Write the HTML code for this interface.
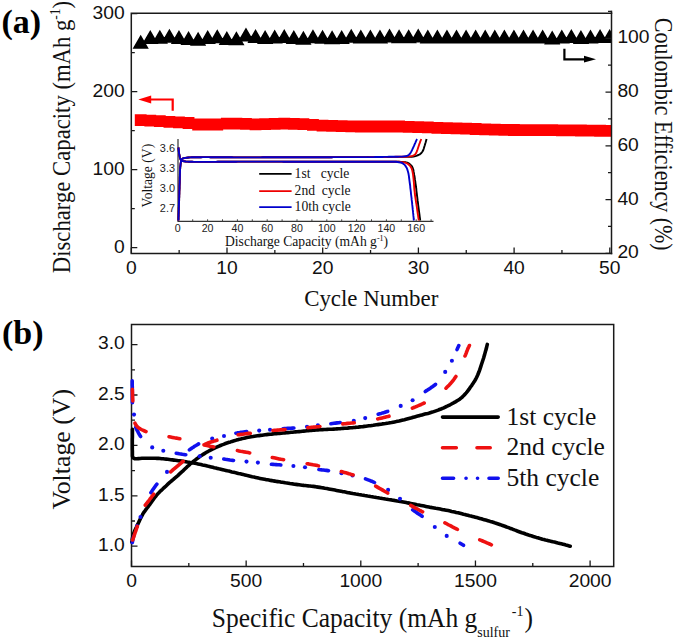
<!DOCTYPE html>
<html><head><meta charset="utf-8"><title>figure</title>
<style>html,body{margin:0;padding:0;background:#fff;} svg{display:block;}</style>
</head><body>
<svg width="675" height="638" viewBox="0 0 675 638">
<defs>
<clipPath id="ca"><rect x="131.3" y="13.3" width="480.2" height="240.2"/></clipPath>
</defs>
<rect width="675" height="638" fill="#fff"/>
<g clip-path="url(#ca)"><path d="M140.7,34.7 L148.8,48.7 L132.6,48.7 Z M150.27,29.9 L158.37,43.9 L142.17,43.9 Z M159.84,29.7 L167.94,43.7 L151.74,43.7 Z M169.41,28.8 L177.51,42.8 L161.31,42.8 Z M178.98,29.9 L187.08,43.9 L170.88,43.9 Z M188.55,30.9 L196.65,44.9 L180.45,44.9 Z M198.12,31.7 L206.22,45.7 L190.02,45.7 Z M207.69,30.1 L215.79,44.1 L199.59,44.1 Z M217.26,29.3 L225.36,43.3 L209.16,43.3 Z M226.83,30.9 L234.93,44.9 L218.73,44.9 Z M236.4,31.2 L244.5,45.2 L228.3,45.2 Z M245.97,27.6 L254.07,41.6 L237.87,41.6 Z M255.54,29 L263.64,43 L247.44,43 Z M265.11,30.1 L273.21,44.1 L257.01,44.1 Z M274.68,29.6 L282.78,43.6 L266.58,43.6 Z M284.25,29 L292.35,43 L276.15,43 Z M293.82,30.1 L301.92,44.1 L285.72,44.1 Z M303.39,30.7 L311.49,44.7 L295.29,44.7 Z M312.96,29.3 L321.06,43.3 L304.86,43.3 Z M322.53,29.7 L330.63,43.7 L314.43,43.7 Z M332.1,30.2 L340.2,44.2 L324,44.2 Z M341.67,30 L349.77,44 L333.57,44 Z M351.24,28.8 L359.34,42.8 L343.14,42.8 Z M360.81,29.4 L368.91,43.4 L352.71,43.4 Z M370.38,29.4 L378.48,43.4 L362.28,43.4 Z M379.95,29.4 L388.05,43.4 L371.85,43.4 Z M389.52,28.6 L397.62,42.6 L381.42,42.6 Z M399.09,29.2 L407.19,43.2 L390.99,43.2 Z M408.66,29.2 L416.76,43.2 L400.56,43.2 Z M418.23,28.6 L426.33,42.6 L410.13,42.6 Z M427.8,29.4 L435.9,43.4 L419.7,43.4 Z M437.37,29.4 L445.47,43.4 L429.27,43.4 Z M446.94,29.4 L455.04,43.4 L438.84,43.4 Z M456.51,29.4 L464.61,43.4 L448.41,43.4 Z M466.08,29.4 L474.18,43.4 L457.98,43.4 Z M475.65,29.4 L483.75,43.4 L467.55,43.4 Z M485.22,29.4 L493.32,43.4 L477.12,43.4 Z M494.79,29.4 L502.89,43.4 L486.69,43.4 Z M504.36,29.4 L512.46,43.4 L496.26,43.4 Z M513.93,29.4 L522.03,43.4 L505.83,43.4 Z M523.5,29.4 L531.6,43.4 L515.4,43.4 Z M533.07,29.4 L541.17,43.4 L524.97,43.4 Z M542.64,29.4 L550.74,43.4 L534.54,43.4 Z M552.21,30.6 L560.31,44.6 L544.11,44.6 Z M561.78,29.6 L569.88,43.6 L553.68,43.6 Z M571.35,29.1 L579.45,43.1 L563.25,43.1 Z M580.92,30.1 L589.02,44.1 L572.82,44.1 Z M590.49,29.6 L598.59,43.6 L582.39,43.6 Z M600.06,29.1 L608.16,43.1 L591.96,43.1 Z M609.63,29.1 L617.73,43.1 L601.53,43.1 Z" fill="#000"/></g>
<g clip-path="url(#ca)"><path d="M134.8,114.3 h11.8 v11.8 h-11.8 Z M144.37,114.8 h11.8 v11.8 h-11.8 Z M153.94,115.3 h11.8 v11.8 h-11.8 Z M163.51,115.9 h11.8 v11.8 h-11.8 Z M173.08,116.5 h11.8 v11.8 h-11.8 Z M182.65,117.1 h11.8 v11.8 h-11.8 Z M192.22,118.6 h11.8 v11.8 h-11.8 Z M201.79,118.6 h11.8 v11.8 h-11.8 Z M211.36,118.6 h11.8 v11.8 h-11.8 Z M220.93,117.7 h11.8 v11.8 h-11.8 Z M230.5,117.8 h11.8 v11.8 h-11.8 Z M240.07,117.9 h11.8 v11.8 h-11.8 Z M249.64,118.4 h11.8 v11.8 h-11.8 Z M259.21,118.17 h11.8 v11.8 h-11.8 Z M268.78,117.93 h11.8 v11.8 h-11.8 Z M278.35,117.7 h11.8 v11.8 h-11.8 Z M287.92,118 h11.8 v11.8 h-11.8 Z M297.49,118.3 h11.8 v11.8 h-11.8 Z M307.06,119 h11.8 v11.8 h-11.8 Z M316.63,119.7 h11.8 v11.8 h-11.8 Z M326.2,119.92 h11.8 v11.8 h-11.8 Z M335.77,120.15 h11.8 v11.8 h-11.8 Z M345.34,120.38 h11.8 v11.8 h-11.8 Z M354.91,120.6 h11.8 v11.8 h-11.8 Z M364.48,120.6 h11.8 v11.8 h-11.8 Z M374.05,120.6 h11.8 v11.8 h-11.8 Z M383.62,120.6 h11.8 v11.8 h-11.8 Z M393.19,120.6 h11.8 v11.8 h-11.8 Z M402.76,120.92 h11.8 v11.8 h-11.8 Z M412.33,121.25 h11.8 v11.8 h-11.8 Z M421.9,121.57 h11.8 v11.8 h-11.8 Z M431.47,121.9 h11.8 v11.8 h-11.8 Z M441.04,122.2 h11.8 v11.8 h-11.8 Z M450.61,122.5 h11.8 v11.8 h-11.8 Z M460.18,122.8 h11.8 v11.8 h-11.8 Z M469.75,123.1 h11.8 v11.8 h-11.8 Z M479.32,123.4 h11.8 v11.8 h-11.8 Z M488.89,123.7 h11.8 v11.8 h-11.8 Z M498.46,123.9 h11.8 v11.8 h-11.8 Z M508.03,124.1 h11.8 v11.8 h-11.8 Z M517.6,124.3 h11.8 v11.8 h-11.8 Z M527.17,124.3 h11.8 v11.8 h-11.8 Z M536.74,124.3 h11.8 v11.8 h-11.8 Z M546.31,124.3 h11.8 v11.8 h-11.8 Z M555.88,124.4 h11.8 v11.8 h-11.8 Z M565.45,124.5 h11.8 v11.8 h-11.8 Z M575.02,124.6 h11.8 v11.8 h-11.8 Z M584.59,124.73 h11.8 v11.8 h-11.8 Z M594.16,124.87 h11.8 v11.8 h-11.8 Z M603.73,125 h11.8 v11.8 h-11.8 Z" fill="#ff0000"/></g>
<g stroke="#1a1a1a" stroke-width="1.5" fill="none" stroke-linecap="square">
<path d="M131.3,13.3 H611.5 M131.3,13.3 V253.5 H611.5"/>
<path d="M611.5,11.43 V253.5"/>
</g>
<path d="M131.3,247.7 h6 M131.3,169.7 h6 M131.3,91.7 h6 M131.3,13.7 h6 M131.3,208.7 h3.5 M131.3,130.7 h3.5 M131.3,52.7 h3.5 M611.5,253.3 h-6 M611.5,199.55 h-6 M611.5,145.8 h-6 M611.5,92.05 h-6 M611.5,38.3 h-6 M611.5,226.43 h-3.5 M611.5,172.68 h-3.5 M611.5,118.93 h-3.5 M611.5,65.18 h-3.5 M611.5,11.43 h-3.5 M131.3,253.5 v-6 M227,253.5 v-6 M322.7,253.5 v-6 M418.4,253.5 v-6 M514.1,253.5 v-6 M609.8,253.5 v-6 M179.15,253.5 v-3.5 M274.85,253.5 v-3.5 M370.55,253.5 v-3.5 M466.25,253.5 v-3.5 M561.95,253.5 v-3.5" stroke="#1a1a1a" stroke-width="1.3" fill="none"/>
<text transform='translate(124.6,252.7) scale(1.07,1.0)' font-family='"Liberation Sans", sans-serif' font-size='18' fill='#111' text-anchor='end'>0</text>
<text transform='translate(124.6,174.7) scale(1.07,1.0)' font-family='"Liberation Sans", sans-serif' font-size='18' fill='#111' text-anchor='end'>100</text>
<text transform='translate(124.6,96.7) scale(1.07,1.0)' font-family='"Liberation Sans", sans-serif' font-size='18' fill='#111' text-anchor='end'>200</text>
<text transform='translate(124.6,18.7) scale(1.07,1.0)' font-family='"Liberation Sans", sans-serif' font-size='18' fill='#111' text-anchor='end'>300</text>
<text transform='translate(617.4,258.3) scale(1.07,1.0)' font-family='"Liberation Sans", sans-serif' font-size='18' fill='#111'>20</text>
<text transform='translate(617.4,204.55) scale(1.07,1.0)' font-family='"Liberation Sans", sans-serif' font-size='18' fill='#111'>40</text>
<text transform='translate(617.4,150.8) scale(1.07,1.0)' font-family='"Liberation Sans", sans-serif' font-size='18' fill='#111'>60</text>
<text transform='translate(617.4,97.05) scale(1.07,1.0)' font-family='"Liberation Sans", sans-serif' font-size='18' fill='#111'>80</text>
<text transform='translate(617.4,43.3) scale(1.07,1.0)' font-family='"Liberation Sans", sans-serif' font-size='18' fill='#111'>100</text>
<text transform='translate(131.3,273.8) scale(1.07,1.0)' font-family='"Liberation Sans", sans-serif' font-size='18' fill='#111' text-anchor='middle'>0</text>
<text transform='translate(227,273.8) scale(1.07,1.0)' font-family='"Liberation Sans", sans-serif' font-size='18' fill='#111' text-anchor='middle'>10</text>
<text transform='translate(322.7,273.8) scale(1.07,1.0)' font-family='"Liberation Sans", sans-serif' font-size='18' fill='#111' text-anchor='middle'>20</text>
<text transform='translate(418.4,273.8) scale(1.07,1.0)' font-family='"Liberation Sans", sans-serif' font-size='18' fill='#111' text-anchor='middle'>30</text>
<text transform='translate(514.1,273.8) scale(1.07,1.0)' font-family='"Liberation Sans", sans-serif' font-size='18' fill='#111' text-anchor='middle'>40</text>
<text transform='translate(609.8,273.8) scale(1.07,1.0)' font-family='"Liberation Sans", sans-serif' font-size='18' fill='#111' text-anchor='middle'>50</text>
<text transform='translate(371.2,306)' font-family='"Liberation Serif", serif' font-size='22.9' fill='#111' text-anchor='middle'>Cycle Number</text>
<text transform='translate(69.9,137) rotate(-90) scale(1.0,1.07)' font-family='"Liberation Serif", serif' font-size='22.7' fill='#111' text-anchor='middle'>Discharge Capacity (mAh g<tspan dy="-9.5" font-size="13.5">-1</tspan><tspan dy="9.5">)</tspan></text>
<text transform='translate(655.4,134.2) rotate(90) scale(1.0,1.15)' font-family='"Liberation Serif", serif' font-size='22' fill='#111' text-anchor='middle'>Coulombic Efficiency (%)</text>
<text transform='translate(1.5,32.6)' font-family='"Liberation Serif", serif' font-size='34' fill='#000' font-weight='bold'>(a)</text>
<g fill="none" stroke="#ff0000" stroke-width="2.2">
<path d="M172.7,110.8 V99.5 H150"/>
</g>
<path d="M138.3,99.5 L151.2,95.6 L151.2,103.4 Z" fill="#ff0000"/>
<g fill="none" stroke="#000" stroke-width="2.2">
<path d="M564.4,48.8 V59.4 H586"/>
</g>
<path d="M596,59.2 L584,55.8 L584,62.6 Z" fill="#000"/>
<path d="M178.0,139.0 V221.3 H433.5" stroke="#333" stroke-width="1.2" fill="none"/>
<path d="M192.7,221.3 v-2 M207.6,221.3 v-2 M222.5,221.3 v-2 M237.4,221.3 v-2 M252.3,221.3 v-2 M267.2,221.3 v-2 M282.1,221.3 v-2 M297,221.3 v-2 M311.9,221.3 v-2 M326.8,221.3 v-2 M341.7,221.3 v-2 M356.6,221.3 v-2 M371.5,221.3 v-2 M386.4,221.3 v-2 M401.3,221.3 v-2 M416.2,221.3 v-2 M431.1,221.3 v-2" stroke="#444" stroke-width="1" fill="none"/>
<text transform='translate(175,152.28) scale(1.03,1.0)' font-family='"Liberation Sans", sans-serif' font-size='10.6' fill='#222' text-anchor='end'>3.6</text>
<text transform='translate(175,172.14) scale(1.03,1.0)' font-family='"Liberation Sans", sans-serif' font-size='10.6' fill='#222' text-anchor='end'>3.3</text>
<text transform='translate(175,192) scale(1.03,1.0)' font-family='"Liberation Sans", sans-serif' font-size='10.6' fill='#222' text-anchor='end'>3.0</text>
<text transform='translate(175,211.86) scale(1.03,1.0)' font-family='"Liberation Sans", sans-serif' font-size='10.6' fill='#222' text-anchor='end'>2.7</text>
<text transform='translate(177.8,232)' font-family='"Liberation Sans", sans-serif' font-size='10.6' fill='#222' text-anchor='middle'>0</text>
<text transform='translate(207.6,232)' font-family='"Liberation Sans", sans-serif' font-size='10.6' fill='#222' text-anchor='middle'>20</text>
<text transform='translate(237.4,232)' font-family='"Liberation Sans", sans-serif' font-size='10.6' fill='#222' text-anchor='middle'>40</text>
<text transform='translate(267.2,232)' font-family='"Liberation Sans", sans-serif' font-size='10.6' fill='#222' text-anchor='middle'>60</text>
<text transform='translate(297,232)' font-family='"Liberation Sans", sans-serif' font-size='10.6' fill='#222' text-anchor='middle'>80</text>
<text transform='translate(326.8,232)' font-family='"Liberation Sans", sans-serif' font-size='10.6' fill='#222' text-anchor='middle'>100</text>
<text transform='translate(356.6,232)' font-family='"Liberation Sans", sans-serif' font-size='10.6' fill='#222' text-anchor='middle'>120</text>
<text transform='translate(386.4,232)' font-family='"Liberation Sans", sans-serif' font-size='10.6' fill='#222' text-anchor='middle'>140</text>
<text transform='translate(416.2,232)' font-family='"Liberation Sans", sans-serif' font-size='10.6' fill='#222' text-anchor='middle'>160</text>
<text transform='translate(152.4,175.6) rotate(-90)' font-family='"Liberation Serif", serif' font-size='13.6' fill='#111' text-anchor='middle'>Voltage (V)</text>
<text transform='translate(225,246.1)' font-family='"Liberation Serif", serif' font-size='13.6' fill='#111'>Discharge Capacity (mAh g<tspan dy="-5" font-size="8">-1</tspan><tspan dy="5">)</tspan></text>
<text transform='translate(294.6,178.4)' font-family='"Liberation Serif", serif' font-size='13.6' fill='#111' xml:space='preserve'>1st   cycle</text>
<text transform='translate(294.6,195.3)' font-family='"Liberation Serif", serif' font-size='13.6' fill='#111' xml:space='preserve'>2nd  cycle</text>
<text transform='translate(294.6,211.3)' font-family='"Liberation Serif", serif' font-size='13.6' fill='#111'>10th cycle</text>
<path d="M259.2,173.9 H291.6" stroke="#000" stroke-width="1.6"/>
<path d="M259.2,191.1 H291.6" stroke="#e00" stroke-width="1.6"/>
<path d="M259.2,207.1 H291.6" stroke="#00c" stroke-width="1.6"/>
<path d="M178.4,220.5 L178.5,219.0 L178.5,217.5 L178.6,215.9 L178.6,214.4 L178.7,212.8 L178.7,211.3 L178.8,209.7 L178.8,208.1 L178.9,206.6 L178.9,205.0 L179.0,203.5 L179.0,201.9 L179.1,200.4 L179.1,198.8 L179.2,197.3 L179.2,195.8 L179.3,193.8 L179.3,191.9 L179.4,190.0 L179.5,188.1 L179.5,186.3 L179.6,184.4 L179.7,182.7 L179.7,181.0 L179.8,179.3 L179.8,177.6 L179.9,175.9 L179.9,174.3 L180.0,172.7 L180.0,171.2 L180.1,169.2 L180.2,167.4 L180.4,165.8 L180.6,164.0 L180.9,162.1 L181.2,160.5 L182.0,159.0 L183.5,158.2 L185.2,157.9 L186.9,157.7 L188.4,157.5 L190.2,157.4 L191.9,157.3 L193.8,157.3 L195.4,157.2 L197.1,157.2 L198.9,157.2 L200.8,157.2 L202.7,157.1 L204.2,157.1 L205.8,157.1 L207.4,157.1 L209.0,157.1 L210.6,157.2 L212.3,157.2 L214.0,157.2 L215.7,157.2 L217.5,157.2 L219.2,157.2 L221.0,157.2 L222.8,157.3 L224.6,157.3 L226.4,157.3 L228.2,157.3 L230.0,157.3 L231.8,157.3 L233.6,157.4 L235.4,157.4 L237.2,157.4 L239.0,157.4 L240.8,157.4 L242.6,157.4 L244.3,157.4 L246.0,157.4 L247.8,157.4 L249.4,157.4 L251.3,157.4 L253.2,157.4 L255.0,157.4 L256.9,157.4 L258.9,157.4 L260.8,157.4 L262.8,157.3 L264.4,157.3 L265.9,157.3 L267.4,157.3 L269.0,157.3 L270.6,157.3 L272.1,157.3 L273.7,157.3 L275.3,157.3 L277.0,157.3 L278.6,157.3 L280.2,157.3 L281.8,157.3 L283.5,157.3 L285.1,157.3 L286.8,157.3 L288.4,157.3 L290.1,157.3 L291.8,157.3 L293.4,157.3 L295.1,157.2 L296.7,157.2 L298.4,157.2 L300.1,157.2 L301.7,157.2 L303.4,157.2 L305.0,157.2 L306.7,157.2 L308.3,157.2 L309.9,157.2 L311.5,157.2 L313.1,157.2 L314.7,157.2 L316.3,157.2 L317.9,157.2 L319.5,157.2 L321.0,157.2 L322.6,157.2 L324.1,157.2 L325.6,157.2 L327.6,157.2 L329.6,157.2 L331.5,157.2 L333.4,157.1 L335.2,157.1 L337.1,157.1 L338.8,157.1 L340.6,157.1 L342.3,157.1 L343.9,157.1 L345.5,157.1 L347.1,157.1 L348.9,157.1 L350.6,157.1 L352.5,157.1 L354.3,157.1 L356.1,157.1 L357.8,157.1 L359.4,157.1 L361.0,157.1 L362.5,157.1 L364.0,157.1 L366.0,157.1 L367.9,157.0 L369.7,157.0 L371.5,157.0 L373.3,157.0 L375.1,157.0 L376.9,157.0 L378.7,157.0 L380.6,157.0 L382.2,157.0 L383.9,157.0 L385.5,157.0 L387.1,157.0 L388.7,157.0 L390.3,157.0 L391.8,157.0 L393.8,156.9 L395.7,156.9 L397.5,156.9 L399.2,156.9 L401.2,156.9 L402.8,156.9 L404.4,156.9 L406.2,156.8 L408.0,156.8 L409.6,156.8 L411.6,156.7 L413.6,156.5 L415.5,156.1 L416.9,155.6 L418.4,155.0 L419.9,154.3 L421.4,153.0 L422.5,151.5 L423.3,150.0 L423.8,148.5 L424.3,146.8 L424.8,145.3 L425.2,143.8 L425.7,142.3 L426.1,140.6 L426.6,139.0 M178.4,147.5 L178.6,149.0 L178.8,150.6 L178.9,152.1 L179.1,153.6 L179.5,155.5 L179.8,157.2 L180.2,158.7 L181.0,160.3 L182.6,161.1 L184.2,161.3 L185.7,161.5 L187.3,161.6 L188.9,161.7 L190.6,161.8 L192.1,161.8 L193.7,161.9 L195.4,161.9 L197.2,161.9 L199.1,161.9 L201.1,161.9 L202.6,161.9 L204.2,161.9 L205.8,161.9 L207.4,161.9 L209.1,161.9 L210.8,161.9 L212.5,161.9 L214.2,161.9 L216.0,161.9 L217.8,161.8 L219.6,161.8 L221.4,161.8 L223.2,161.8 L225.0,161.8 L226.9,161.7 L228.7,161.7 L230.5,161.7 L232.4,161.7 L234.2,161.7 L236.0,161.7 L237.8,161.6 L239.6,161.6 L241.4,161.6 L243.2,161.6 L244.9,161.6 L246.6,161.6 L248.3,161.6 L250.0,161.6 L251.8,161.6 L253.7,161.6 L255.6,161.6 L257.5,161.6 L259.4,161.6 L261.4,161.6 L262.9,161.6 L264.4,161.6 L266.0,161.6 L267.5,161.6 L269.1,161.6 L270.7,161.6 L272.2,161.6 L273.8,161.6 L275.5,161.6 L277.1,161.6 L278.7,161.6 L280.3,161.6 L282.0,161.6 L283.6,161.7 L285.2,161.7 L286.9,161.7 L288.6,161.7 L290.2,161.7 L291.9,161.7 L293.5,161.7 L295.2,161.7 L296.8,161.7 L298.5,161.7 L300.2,161.7 L301.8,161.7 L303.5,161.7 L305.1,161.7 L306.7,161.7 L308.4,161.7 L310.0,161.7 L311.6,161.7 L313.2,161.7 L314.8,161.7 L316.4,161.7 L318.0,161.7 L319.5,161.7 L321.1,161.7 L322.6,161.7 L324.1,161.7 L325.7,161.7 L327.6,161.7 L329.6,161.7 L331.5,161.7 L333.4,161.7 L335.3,161.7 L337.1,161.7 L338.9,161.7 L340.6,161.7 L342.3,161.7 L343.9,161.7 L345.5,161.7 L347.1,161.7 L348.9,161.7 L350.6,161.7 L352.5,161.7 L354.3,161.7 L356.1,161.7 L357.8,161.7 L359.5,161.7 L361.1,161.7 L362.6,161.7 L364.2,161.7 L366.1,161.8 L368.1,161.8 L369.9,161.8 L371.7,161.8 L373.5,161.8 L375.3,161.8 L377.0,161.8 L378.7,161.8 L380.6,161.8 L382.3,161.8 L384.0,161.8 L385.7,161.8 L387.4,161.8 L389.0,161.8 L390.5,161.8 L392.5,161.8 L394.3,161.8 L395.9,161.8 L397.7,161.8 L399.2,161.8 L401.2,161.9 L402.7,162.0 L404.3,162.1 L405.9,162.3 L407.3,162.7 L408.7,163.4 L410.0,164.3 L411.1,165.4 L412.1,166.7 L412.8,168.2 L413.4,170.0 L413.6,171.5 L413.9,173.1 L414.2,174.9 L414.6,176.8 L414.8,178.3 L415.0,179.9 L415.3,181.6 L415.5,183.3 L415.8,185.1 L416.0,187.0 L416.3,189.0 L416.4,190.6 L416.6,192.1 L416.8,193.7 L417.0,195.3 L417.2,196.9 L417.4,198.5 L417.6,200.4 L417.9,202.3 L418.1,204.3 L418.3,205.8 L418.5,207.3 L418.7,208.8 L418.9,210.3 L419.1,211.9 L419.3,213.4 L419.5,214.9 L419.7,216.5 L419.9,218.0 L420.1,219.5 L420.2,220.5" stroke="#000" stroke-width="1.9" fill="none" stroke-linejoin="round"/>
<path d="M178.4,220.5 L178.5,219.0 L178.5,217.5 L178.6,215.9 L178.6,214.4 L178.7,212.8 L178.7,211.3 L178.8,209.7 L178.8,208.1 L178.9,206.6 L178.9,205.0 L179.0,203.5 L179.0,201.9 L179.1,200.4 L179.1,198.8 L179.2,197.3 L179.2,195.8 L179.3,193.8 L179.3,191.9 L179.4,190.0 L179.5,188.1 L179.5,186.3 L179.6,184.4 L179.7,182.7 L179.7,181.0 L179.8,179.3 L179.8,177.6 L179.9,175.9 L179.9,174.3 L180.0,172.7 L180.0,171.2 L180.1,169.2 L180.2,167.4 L180.4,165.8 L180.6,164.0 L180.9,162.1 L181.2,160.5 L182.0,159.0 L183.5,158.2 L185.2,157.9 L186.9,157.7 L188.4,157.5 L190.2,157.4 L191.9,157.3 L193.8,157.3 L195.4,157.2 L197.1,157.2 L198.9,157.2 L200.8,157.2 L202.7,157.1 L204.2,157.1 L205.8,157.1 L207.4,157.1 L209.0,157.1 L210.6,157.2 L212.3,157.2 L214.0,157.2 L215.7,157.2 L217.5,157.2 L219.2,157.2 L221.0,157.2 L222.8,157.3 L224.6,157.3 L226.4,157.3 L228.2,157.3 L230.0,157.3 L231.8,157.3 L233.6,157.4 L235.4,157.4 L237.2,157.4 L239.0,157.4 L240.8,157.4 L242.6,157.4 L244.3,157.4 L246.0,157.4 L247.8,157.4 L249.4,157.4 L251.3,157.4 L253.2,157.4 L255.0,157.4 L256.9,157.4 L258.9,157.4 L260.8,157.4 L262.8,157.3 L264.4,157.3 L265.9,157.3 L267.4,157.3 L269.0,157.3 L270.6,157.3 L272.1,157.3 L273.7,157.3 L275.3,157.3 L277.0,157.3 L278.6,157.3 L280.2,157.3 L281.8,157.3 L283.5,157.3 L285.1,157.3 L286.8,157.3 L288.4,157.3 L290.1,157.3 L291.8,157.3 L293.4,157.3 L295.1,157.2 L296.7,157.2 L298.4,157.2 L300.1,157.2 L301.7,157.2 L303.4,157.2 L305.0,157.2 L306.7,157.2 L308.3,157.2 L309.9,157.2 L311.5,157.2 L313.1,157.2 L314.7,157.2 L316.3,157.2 L317.9,157.2 L319.5,157.2 L321.0,157.2 L322.6,157.2 L324.1,157.2 L325.6,157.2 L327.6,157.2 L329.6,157.2 L331.5,157.2 L333.4,157.1 L335.2,157.1 L337.1,157.1 L338.8,157.1 L340.6,157.1 L342.3,157.1 L343.9,157.1 L345.5,157.1 L347.1,157.1 L348.9,157.1 L350.6,157.1 L352.5,157.1 L354.3,157.1 L356.1,157.1 L357.8,157.1 L359.5,157.1 L361.1,157.1 L362.6,157.1 L364.1,157.1 L366.1,157.1 L368.0,157.1 L369.8,157.0 L371.7,157.0 L373.4,157.0 L375.2,157.0 L377.0,157.0 L378.7,157.0 L380.6,157.0 L382.3,157.0 L383.9,157.0 L385.6,157.0 L387.2,156.9 L388.8,156.9 L390.4,156.9 L391.9,156.9 L393.8,156.9 L395.6,156.8 L397.2,156.8 L399.2,156.8 L400.8,156.8 L402.7,156.7 L404.6,156.7 L406.2,156.6 L407.7,156.5 L409.4,156.4 L411.0,156.2 L412.7,155.8 L414.3,155.0 L415.6,153.9 L416.4,152.5 L417.0,150.9 L417.6,149.3 L418.1,147.8 L418.6,146.2 L419.1,144.7 L419.8,142.9 L420.3,141.4 L420.9,140.0 L421.2,139.0 M178.4,147.5 L178.6,149.0 L178.8,150.6 L178.9,152.1 L179.1,153.6 L179.5,155.5 L179.8,157.2 L180.2,158.7 L181.0,160.3 L182.6,161.1 L184.2,161.3 L185.7,161.5 L187.3,161.6 L188.9,161.7 L190.6,161.8 L192.1,161.8 L193.7,161.9 L195.4,161.9 L197.2,161.9 L199.1,161.9 L201.1,161.9 L202.6,161.9 L204.2,161.9 L205.8,161.9 L207.4,161.9 L209.1,161.9 L210.8,161.9 L212.5,161.9 L214.2,161.9 L216.0,161.9 L217.8,161.8 L219.6,161.8 L221.4,161.8 L223.2,161.8 L225.0,161.8 L226.9,161.7 L228.7,161.7 L230.5,161.7 L232.4,161.7 L234.2,161.7 L236.0,161.7 L237.8,161.6 L239.6,161.6 L241.4,161.6 L243.2,161.6 L244.9,161.6 L246.6,161.6 L248.3,161.6 L250.0,161.6 L251.8,161.6 L253.7,161.6 L255.6,161.6 L257.5,161.6 L259.4,161.6 L261.4,161.6 L262.9,161.6 L264.4,161.6 L266.0,161.6 L267.5,161.6 L269.1,161.6 L270.7,161.6 L272.2,161.6 L273.8,161.6 L275.5,161.6 L277.1,161.6 L278.7,161.6 L280.3,161.6 L282.0,161.6 L283.6,161.7 L285.2,161.7 L286.9,161.7 L288.6,161.7 L290.2,161.7 L291.9,161.7 L293.5,161.7 L295.2,161.7 L296.8,161.7 L298.5,161.7 L300.2,161.7 L301.8,161.7 L303.5,161.7 L305.1,161.7 L306.7,161.7 L308.4,161.7 L310.0,161.7 L311.6,161.7 L313.2,161.7 L314.8,161.7 L316.4,161.7 L318.0,161.7 L319.5,161.7 L321.1,161.7 L322.6,161.7 L324.1,161.7 L325.7,161.7 L327.6,161.7 L329.6,161.7 L331.5,161.7 L333.4,161.7 L335.3,161.7 L337.1,161.7 L338.9,161.7 L340.6,161.7 L342.3,161.7 L343.9,161.7 L345.5,161.7 L347.1,161.7 L348.9,161.7 L350.6,161.7 L352.5,161.7 L354.4,161.7 L356.1,161.7 L357.9,161.7 L359.6,161.7 L361.2,161.7 L362.8,161.7 L364.3,161.7 L365.8,161.8 L367.8,161.8 L369.7,161.8 L371.5,161.8 L373.3,161.8 L375.0,161.8 L376.7,161.8 L378.4,161.8 L380.0,161.8 L381.8,161.8 L383.5,161.8 L385.1,161.8 L386.7,161.8 L388.2,161.8 L390.1,161.8 L391.9,161.8 L393.6,161.8 L395.2,161.8 L396.8,161.8 L398.8,161.8 L400.3,161.9 L402.0,162.1 L403.6,162.3 L405.2,162.7 L406.6,163.2 L408.0,164.0 L409.2,165.0 L410.3,166.2 L411.1,167.4 L411.8,168.9 L412.3,170.6 L412.7,172.6 L413.0,174.2 L413.2,175.9 L413.4,177.6 L413.6,179.5 L413.7,181.0 L413.9,182.6 L414.0,184.2 L414.1,185.8 L414.2,187.4 L414.3,189.0 L414.5,190.5 L414.7,192.0 L414.8,193.5 L415.0,195.0 L415.3,197.0 L415.6,199.0 L415.9,201.0 L416.1,202.5 L416.4,204.0 L416.6,205.5 L416.9,207.4 L417.1,208.9 L417.3,210.4 L417.5,211.9 L417.7,213.4 L418.0,215.0 L418.2,216.5 L418.4,218.0 L418.7,219.5 L418.8,220.5" stroke="#e00" stroke-width="1.9" fill="none" stroke-linejoin="round"/>
<path d="M178.4,220.5 L178.5,219.0 L178.5,217.5 L178.6,215.9 L178.6,214.4 L178.7,212.8 L178.7,211.3 L178.8,209.7 L178.8,208.1 L178.9,206.6 L178.9,205.0 L179.0,203.5 L179.0,201.9 L179.1,200.4 L179.1,198.8 L179.2,197.3 L179.2,195.8 L179.3,193.8 L179.3,191.9 L179.4,190.0 L179.5,188.1 L179.5,186.3 L179.6,184.4 L179.7,182.7 L179.7,181.0 L179.8,179.3 L179.8,177.6 L179.9,175.9 L179.9,174.3 L180.0,172.7 L180.0,171.2 L180.1,169.2 L180.2,167.4 L180.4,165.8 L180.6,164.0 L180.9,162.1 L181.2,160.5 L182.0,159.0 L183.5,158.2 L185.2,157.9 L186.9,157.7 L188.4,157.5 L190.2,157.4 L191.9,157.3 L193.8,157.3 L195.4,157.2 L197.1,157.2 L198.9,157.2 L200.8,157.2 L202.7,157.1 L204.2,157.1 L205.8,157.1 L207.4,157.1 L209.0,157.1 L210.6,157.2 L212.3,157.2 L214.0,157.2 L215.7,157.2 L217.5,157.2 L219.2,157.2 L221.0,157.2 L222.8,157.3 L224.6,157.3 L226.4,157.3 L228.2,157.3 L230.0,157.3 L231.8,157.3 L233.6,157.4 L235.4,157.4 L237.2,157.4 L239.0,157.4 L240.8,157.4 L242.6,157.4 L244.3,157.4 L246.0,157.4 L247.8,157.4 L249.4,157.4 L251.3,157.4 L253.2,157.4 L255.0,157.4 L256.9,157.4 L258.9,157.4 L260.8,157.4 L262.8,157.3 L264.4,157.3 L265.9,157.3 L267.4,157.3 L269.0,157.3 L270.6,157.3 L272.1,157.3 L273.7,157.3 L275.3,157.3 L277.0,157.3 L278.6,157.3 L280.2,157.3 L281.8,157.3 L283.5,157.3 L285.1,157.3 L286.8,157.3 L288.4,157.3 L290.1,157.3 L291.8,157.3 L293.4,157.3 L295.1,157.2 L296.7,157.2 L298.4,157.2 L300.1,157.2 L301.7,157.2 L303.4,157.2 L305.0,157.2 L306.7,157.2 L308.3,157.2 L309.9,157.2 L311.5,157.2 L313.1,157.2 L314.7,157.2 L316.3,157.2 L317.9,157.2 L319.5,157.2 L321.0,157.2 L322.6,157.2 L324.1,157.2 L325.6,157.2 L327.6,157.2 L329.6,157.2 L331.5,157.2 L333.4,157.1 L335.2,157.1 L337.1,157.1 L338.8,157.1 L340.6,157.1 L342.3,157.1 L343.9,157.1 L345.5,157.1 L347.1,157.1 L348.9,157.1 L350.6,157.1 L352.5,157.1 L354.4,157.1 L356.1,157.1 L357.9,157.1 L359.5,157.1 L361.1,157.1 L362.7,157.1 L364.3,157.1 L366.3,157.1 L368.2,157.1 L370.0,157.1 L371.9,157.1 L373.6,157.1 L375.4,157.0 L377.1,157.0 L378.8,157.0 L380.6,157.0 L382.3,157.0 L384.0,156.9 L385.7,156.9 L387.3,156.9 L388.8,156.8 L390.8,156.8 L392.6,156.8 L394.2,156.7 L396.2,156.7 L397.7,156.7 L399.5,156.6 L401.1,156.6 L402.6,156.5 L404.5,156.3 L406.0,156.1 L407.7,155.6 L409.0,154.7 L410.2,153.5 L411.1,151.9 L412.0,150.2 L412.7,148.7 L413.4,147.2 L414.1,145.7 L414.7,144.2 L415.3,142.8 L415.9,141.3 L416.6,139.9 L417.0,139.0 M178.4,147.5 L178.6,149.0 L178.8,150.6 L178.9,152.1 L179.1,153.6 L179.5,155.5 L179.8,157.2 L180.2,158.7 L181.0,160.3 L182.6,161.1 L184.2,161.3 L185.7,161.5 L187.3,161.6 L188.9,161.7 L190.6,161.8 L192.1,161.8 L193.7,161.9 L195.4,161.9 L197.2,161.9 L199.1,161.9 L201.1,161.9 L202.6,161.9 L204.2,161.9 L205.8,161.9 L207.4,161.9 L209.1,161.9 L210.8,161.9 L212.5,161.9 L214.2,161.9 L216.0,161.9 L217.8,161.8 L219.6,161.8 L221.4,161.8 L223.2,161.8 L225.0,161.8 L226.9,161.7 L228.7,161.7 L230.5,161.7 L232.4,161.7 L234.2,161.7 L236.0,161.7 L237.8,161.6 L239.6,161.6 L241.4,161.6 L243.2,161.6 L244.9,161.6 L246.6,161.6 L248.3,161.6 L250.0,161.6 L251.8,161.6 L253.7,161.6 L255.6,161.6 L257.5,161.6 L259.4,161.6 L261.4,161.6 L262.9,161.6 L264.4,161.6 L266.0,161.6 L267.5,161.6 L269.1,161.6 L270.7,161.6 L272.2,161.6 L273.8,161.6 L275.5,161.6 L277.1,161.6 L278.7,161.6 L280.3,161.6 L282.0,161.6 L283.6,161.7 L285.2,161.7 L286.9,161.7 L288.6,161.7 L290.2,161.7 L291.9,161.7 L293.5,161.7 L295.2,161.7 L296.8,161.7 L298.5,161.7 L300.2,161.7 L301.8,161.7 L303.5,161.7 L305.1,161.7 L306.7,161.7 L308.4,161.7 L310.0,161.7 L311.6,161.7 L313.2,161.7 L314.8,161.7 L316.4,161.7 L318.0,161.7 L319.5,161.7 L321.1,161.7 L322.6,161.7 L324.1,161.7 L325.7,161.7 L327.6,161.7 L329.6,161.7 L331.5,161.7 L333.4,161.7 L335.3,161.7 L337.1,161.7 L338.9,161.7 L340.6,161.7 L342.3,161.7 L343.9,161.7 L345.5,161.7 L347.1,161.7 L348.9,161.7 L350.6,161.7 L352.5,161.7 L354.4,161.7 L356.2,161.7 L358.0,161.7 L359.7,161.7 L361.3,161.7 L363.0,161.7 L364.6,161.7 L366.1,161.8 L368.1,161.8 L370.0,161.8 L371.8,161.8 L373.6,161.8 L375.3,161.8 L376.9,161.8 L378.5,161.8 L380.6,161.8 L382.4,161.8 L384.0,161.8 L385.9,161.8 L387.8,161.8 L389.5,161.8 L391.1,161.8 L392.8,161.8 L394.4,161.8 L395.9,161.8 L397.4,162.0 L399.1,162.2 L400.7,162.5 L402.2,163.0 L403.8,164.1 L404.9,165.1 L405.8,166.4 L406.6,167.7 L407.2,169.1 L407.7,170.7 L408.2,172.4 L408.6,174.3 L408.9,176.2 L409.1,177.8 L409.3,179.4 L409.5,181.0 L409.7,182.5 L410.0,184.5 L410.2,186.0 L410.3,187.6 L410.5,189.2 L410.7,190.7 L410.9,192.3 L411.0,193.8 L411.2,195.3 L411.4,196.9 L411.6,198.4 L411.7,199.9 L411.9,201.4 L412.1,202.9 L412.2,204.4 L412.4,206.0 L412.6,207.9 L412.8,209.9 L413.0,211.4 L413.1,212.9 L413.3,214.4 L413.4,215.9 L413.6,217.5 L413.7,219.0 L413.9,220.5" stroke="#00c" stroke-width="1.9" fill="none" stroke-linejoin="round"/>
<g stroke="#1a1a1a" stroke-width="1.5" fill="none" stroke-linecap="square">
<path d="M131.5,324.6 H613.7 V566.6 H131.5 Z"/>
</g>
<path d="M131.5,546.2 h6 M131.5,495.8 h6 M131.5,445.4 h6 M131.5,395 h6 M131.5,344.6 h6 M131.5,521 h3.5 M131.5,470.6 h3.5 M131.5,420.2 h3.5 M131.5,369.8 h3.5 M131.5,566.6 v-6 M246.15,566.6 v-6 M360.8,566.6 v-6 M475.45,566.6 v-6 M590.1,566.6 v-6 M188.82,566.6 v-3.5 M303.48,566.6 v-3.5 M418.12,566.6 v-3.5 M532.78,566.6 v-3.5" stroke="#1a1a1a" stroke-width="1.3" fill="none"/>
<text transform='translate(124.8,551) scale(1.07,1.0)' font-family='"Liberation Sans", sans-serif' font-size='18' fill='#111' text-anchor='end'>1.0</text>
<text transform='translate(124.8,500.6) scale(1.07,1.0)' font-family='"Liberation Sans", sans-serif' font-size='18' fill='#111' text-anchor='end'>1.5</text>
<text transform='translate(124.8,450.2) scale(1.07,1.0)' font-family='"Liberation Sans", sans-serif' font-size='18' fill='#111' text-anchor='end'>2.0</text>
<text transform='translate(124.8,399.8) scale(1.07,1.0)' font-family='"Liberation Sans", sans-serif' font-size='18' fill='#111' text-anchor='end'>2.5</text>
<text transform='translate(124.8,349.4) scale(1.07,1.0)' font-family='"Liberation Sans", sans-serif' font-size='18' fill='#111' text-anchor='end'>3.0</text>
<text transform='translate(131.5,587.1) scale(1.07,1.0)' font-family='"Liberation Sans", sans-serif' font-size='18' fill='#111' text-anchor='middle'>0</text>
<text transform='translate(246.15,587.1) scale(1.07,1.0)' font-family='"Liberation Sans", sans-serif' font-size='18' fill='#111' text-anchor='middle'>500</text>
<text transform='translate(360.8,587.1) scale(1.07,1.0)' font-family='"Liberation Sans", sans-serif' font-size='18' fill='#111' text-anchor='middle'>1000</text>
<text transform='translate(475.45,587.1) scale(1.07,1.0)' font-family='"Liberation Sans", sans-serif' font-size='18' fill='#111' text-anchor='middle'>1500</text>
<text transform='translate(590.1,587.1) scale(1.07,1.0)' font-family='"Liberation Sans", sans-serif' font-size='18' fill='#111' text-anchor='middle'>2000</text>
<text transform='translate(69.5,449.3) rotate(-90)' font-family='"Liberation Serif", serif' font-size='25.8' fill='#111' text-anchor='middle'>Voltage (V)</text>
<text transform='translate(211.8,626.5) scale(1.0,1.03)' font-family='"Liberation Serif", serif' font-size='25.5' fill='#111'>Specific Capacity (mAh g<tspan dy="10" font-size="14">sulfur</tspan><tspan dy="-20" font-size="14" dx="2">-1</tspan><tspan dy="10" dx="1">)</tspan></text>
<text transform='translate(506.5,425.2)' font-family='"Liberation Serif", serif' font-size='25.5' fill='#111'>1st cycle</text>
<text transform='translate(506.5,455.3)' font-family='"Liberation Serif", serif' font-size='25.5' fill='#111'>2nd cycle</text>
<text transform='translate(506.5,485.8)' font-family='"Liberation Serif", serif' font-size='25.5' fill='#111'>5th cycle</text>
<text transform='translate(2,344.2)' font-family='"Liberation Serif", serif' font-size='34' fill='#000' font-weight='bold'>(b)</text>
<g>
<g fill="none" stroke-linecap="round" stroke-linejoin="round" stroke-width="3.6">
<path d="M131.8,542.0 L132.1,540.5 L132.3,539.0 L132.6,537.5 L132.9,536.0 L133.3,534.5 L134.0,532.7 L134.7,530.8 L135.3,529.5 L136.0,528.1 L136.7,526.7 L137.3,525.3 L138.0,523.9 L138.6,522.5 L139.3,521.1 L139.9,519.7 L140.6,518.3 L141.3,516.9 L142.0,515.6 L142.7,514.2 L143.5,512.9 L144.4,511.7 L145.3,510.4 L146.2,509.2 L147.1,508.0 L148.0,506.8 L149.0,505.5 L149.9,504.3 L151.0,502.7 L151.9,501.4 L152.8,500.2 L153.7,498.9 L154.6,497.7 L155.6,496.5 L156.8,495.0 L157.8,493.8 L158.9,492.7 L160.0,491.6 L161.0,490.6 L162.5,489.2 L163.9,487.8 L165.0,486.8 L166.2,485.8 L167.3,484.7 L168.4,483.7 L169.5,482.7 L170.7,481.7 L171.9,480.6 L173.4,479.3 L174.5,478.3 L175.7,477.3 L176.9,476.3 L178.1,475.3 L179.3,474.2 L180.4,473.2 L181.5,472.2 L182.7,471.2 L183.8,470.1 L185.1,468.8 L186.5,467.4 L187.6,466.3 L188.8,465.3 L190.0,464.2 L191.4,463.0 L192.9,461.8 L194.1,460.9 L195.4,459.9 L196.6,458.9 L197.9,458.0 L199.2,457.0 L200.5,456.1 L201.8,455.2 L203.1,454.4 L204.4,453.6 L205.7,452.8 L207.0,452.0 L208.3,451.3 L209.7,450.5 L211.0,449.9 L212.4,449.2 L213.7,448.5 L215.5,447.7 L217.3,446.9 L219.1,446.1 L220.5,445.5 L222.0,444.9 L223.4,444.4 L224.8,443.8 L226.2,443.3 L227.7,442.8 L229.1,442.3 L230.6,441.9 L232.0,441.4 L233.4,441.0 L234.9,440.6 L236.4,440.1 L237.9,439.7 L239.3,439.3 L240.8,439.0 L242.3,438.6 L243.8,438.3 L245.3,437.9 L246.8,437.6 L248.3,437.3 L249.8,437.0 L251.3,436.7 L252.9,436.5 L254.4,436.2 L255.9,436.0 L257.5,435.8 L259.0,435.6 L260.5,435.4 L262.1,435.2 L263.6,435.0 L265.1,434.8 L266.6,434.6 L268.1,434.4 L270.1,434.2 L271.6,434.1 L273.1,433.9 L274.6,433.8 L276.2,433.7 L277.8,433.5 L279.4,433.4 L281.3,433.2 L283.3,433.0 L284.8,432.9 L286.3,432.7 L287.9,432.6 L289.4,432.5 L291.0,432.3 L292.6,432.2 L294.1,432.0 L295.6,431.9 L297.1,431.8 L299.1,431.6 L300.7,431.5 L302.3,431.3 L303.8,431.1 L305.3,431.0 L306.8,430.8 L308.3,430.7 L309.8,430.5 L311.4,430.4 L312.9,430.3 L314.4,430.1 L316.0,430.0 L318.0,429.9 L319.5,429.8 L321.1,429.7 L322.6,429.6 L324.2,429.5 L325.7,429.5 L327.3,429.4 L328.8,429.3 L330.4,429.2 L331.9,429.2 L333.8,429.1 L335.3,429.0 L336.9,428.9 L338.5,428.8 L340.0,428.7 L341.6,428.5 L343.1,428.4 L344.6,428.3 L346.1,428.2 L347.6,428.1 L349.1,427.9 L350.6,427.8 L352.2,427.7 L353.7,427.5 L355.2,427.4 L356.7,427.2 L358.3,427.1 L359.8,426.9 L361.3,426.7 L362.9,426.6 L364.4,426.4 L365.9,426.2 L367.4,426.0 L368.9,425.8 L370.4,425.7 L371.9,425.5 L373.3,425.3 L374.8,425.0 L376.3,424.8 L377.8,424.6 L379.3,424.4 L380.8,424.2 L382.4,423.9 L384.0,423.7 L385.5,423.5 L387.1,423.2 L388.6,423.0 L390.1,422.7 L391.6,422.5 L393.1,422.2 L394.6,421.9 L396.2,421.6 L397.6,421.3 L399.1,421.0 L401.0,420.5 L403.0,420.0 L404.5,419.7 L406.0,419.3 L407.9,418.8 L409.8,418.3 L411.7,417.8 L413.2,417.3 L414.6,416.9 L416.1,416.5 L417.6,416.1 L419.0,415.7 L420.5,415.3 L422.0,414.9 L423.4,414.5 L424.9,414.1 L426.4,413.7 L427.9,413.4 L429.4,413.0 L430.9,412.5 L432.3,412.1 L433.8,411.6 L435.3,411.1 L436.7,410.6 L438.1,410.1 L439.5,409.5 L441.0,409.0 L442.4,408.4 L443.8,407.8 L445.2,407.1 L446.5,406.5 L448.3,405.6 L450.1,404.8 L451.5,404.0 L453.0,403.2 L454.4,402.4 L455.8,401.6 L457.1,400.8 L458.4,400.0 L460.0,398.9 L461.6,397.6 L462.7,396.6 L463.8,395.5 L465.2,394.0 L466.2,392.9 L467.2,391.7 L468.2,390.4 L469.1,389.2 L470.0,387.8 L470.9,386.5 L471.8,385.3 L472.7,383.9 L473.6,382.6 L474.5,381.3 L475.2,380.0 L476.0,378.6 L476.8,376.9 L477.7,375.0 L478.3,373.5 L479.0,371.8 L479.7,369.9 L480.2,368.4 L480.7,366.9 L481.2,365.3 L481.7,363.8 L482.2,362.3 L482.7,360.8 L483.2,359.3 L483.7,357.7 L484.1,356.2 L484.6,354.6 L485.0,353.1 L485.5,351.3 L486.1,349.4 L486.5,347.8 L486.8,346.4 L487.3,344.4" stroke="#000"/>
<path d="M132.4,429.3 L132.4,430.8 L132.4,432.4 L132.4,434.1 L132.4,435.8 L132.4,437.4 L132.3,439.1 L132.3,440.8 L132.3,442.4 L132.3,444.0 L132.3,445.6 L132.3,447.5 L132.3,449.3 L132.4,450.9 L132.4,452.7 L132.4,454.5 L132.4,456.1 L132.8,457.6 L134.6,458.6 L136.5,458.7 L138.5,458.6 L140.2,458.5 L141.9,458.3 L143.7,458.2 L145.3,458.2 L147.2,458.2 L149.2,458.2 L150.7,458.2 L152.3,458.2 L153.9,458.2 L155.4,458.3 L157.0,458.4 L158.6,458.4 L160.1,458.5 L161.6,458.7 L163.2,458.8 L164.7,459.0 L166.2,459.1 L167.8,459.3 L169.3,459.5 L170.8,459.7 L172.4,459.9 L173.9,460.1 L175.4,460.3 L176.9,460.5 L178.4,460.7 L179.9,460.9 L181.4,461.1 L182.9,461.3 L184.3,461.5 L185.8,461.7 L187.3,462.0 L188.8,462.2 L190.3,462.5 L191.8,462.7 L193.4,463.0 L194.9,463.3 L196.4,463.6 L197.9,463.9 L199.4,464.2 L201.0,464.5 L202.5,464.9 L204.0,465.2 L205.5,465.5 L207.4,466.0 L209.4,466.4 L211.3,466.9 L212.8,467.3 L214.2,467.7 L215.8,468.0 L217.3,468.4 L218.9,468.8 L220.8,469.2 L222.7,469.7 L224.2,470.1 L225.7,470.4 L227.3,470.8 L228.8,471.1 L230.4,471.5 L231.9,471.9 L233.5,472.2 L235.0,472.6 L236.5,472.9 L238.4,473.4 L240.3,473.8 L241.9,474.2 L243.4,474.6 L244.9,474.9 L246.4,475.3 L248.3,475.7 L250.2,476.2 L252.2,476.7 L254.1,477.1 L255.6,477.4 L257.1,477.7 L258.5,478.1 L260.0,478.4 L261.5,478.7 L263.0,479.0 L264.5,479.3 L265.9,479.6 L267.4,479.8 L268.9,480.1 L270.4,480.4 L271.9,480.6 L273.4,480.9 L274.9,481.1 L276.3,481.4 L277.8,481.6 L279.3,481.8 L280.8,482.1 L282.3,482.3 L283.8,482.5 L285.3,482.8 L286.9,483.0 L288.4,483.2 L289.9,483.5 L291.4,483.7 L293.0,483.9 L294.5,484.2 L296.0,484.4 L297.6,484.6 L299.1,484.8 L300.6,485.0 L302.2,485.2 L303.8,485.4 L305.3,485.5 L306.9,485.7 L308.4,485.9 L310.0,486.0 L311.5,486.2 L313.4,486.4 L315.0,486.6 L316.5,486.9 L318.0,487.1 L319.9,487.4 L321.9,487.7 L323.4,487.9 L325.0,488.2 L326.9,488.5 L328.8,488.9 L330.3,489.2 L331.9,489.5 L333.4,489.8 L334.9,490.1 L336.5,490.4 L338.0,490.7 L339.5,491.0 L341.0,491.3 L342.5,491.6 L344.0,491.8 L345.4,492.1 L346.9,492.4 L348.4,492.7 L349.9,492.9 L351.3,493.2 L352.8,493.5 L354.3,493.7 L355.8,494.0 L357.3,494.2 L358.7,494.5 L360.2,494.7 L361.7,495.0 L363.2,495.2 L364.7,495.5 L366.1,495.7 L367.6,496.0 L369.1,496.2 L370.6,496.5 L372.1,496.7 L373.5,497.0 L375.0,497.2 L376.5,497.5 L378.0,497.7 L379.5,498.0 L380.9,498.2 L382.4,498.5 L383.9,498.7 L385.4,499.0 L386.9,499.2 L388.4,499.5 L389.9,499.7 L391.4,499.9 L392.8,500.2 L394.3,500.4 L395.8,500.7 L397.3,501.0 L398.8,501.2 L400.3,501.5 L401.8,501.7 L403.3,502.0 L404.7,502.3 L406.2,502.6 L407.7,502.9 L409.2,503.1 L410.6,503.4 L412.1,503.7 L413.6,504.0 L415.1,504.3 L417.0,504.7 L418.9,505.0 L420.9,505.4 L422.8,505.8 L424.3,506.1 L425.8,506.4 L427.3,506.7 L428.9,507.0 L430.8,507.4 L432.7,507.7 L434.2,508.0 L435.7,508.3 L437.2,508.5 L438.7,508.8 L440.3,509.1 L441.8,509.4 L443.3,509.7 L444.8,509.9 L446.3,510.2 L448.2,510.6 L450.1,511.0 L451.7,511.4 L453.2,511.7 L454.7,512.0 L456.2,512.4 L458.1,512.8 L460.0,513.3 L462.0,513.8 L463.4,514.2 L464.9,514.5 L466.4,514.9 L467.9,515.3 L469.4,515.7 L470.9,516.0 L472.4,516.4 L473.8,516.8 L475.3,517.2 L476.8,517.6 L478.3,518.0 L479.8,518.4 L481.3,518.8 L482.8,519.3 L484.2,519.7 L485.7,520.1 L487.2,520.5 L488.7,520.9 L490.2,521.4 L491.6,521.8 L493.1,522.3 L494.6,522.8 L496.0,523.2 L497.5,523.7 L499.0,524.2 L500.4,524.7 L501.9,525.3 L503.3,525.8 L504.8,526.3 L506.6,527.0 L508.5,527.6 L509.9,528.2 L511.4,528.7 L512.9,529.3 L514.4,529.9 L515.8,530.4 L517.2,531.0 L519.1,531.7 L520.5,532.2 L521.9,532.7 L523.8,533.3 L525.6,534.0 L527.1,534.5 L528.6,535.0 L530.0,535.4 L531.9,536.0 L533.3,536.5 L534.8,536.9 L536.3,537.4 L537.8,537.8 L539.3,538.3 L540.9,538.7 L542.4,539.2 L543.9,539.6 L545.4,540.0 L546.9,540.3 L548.4,540.7 L550.0,541.1 L551.5,541.4 L553.0,541.8 L554.5,542.1 L556.0,542.5 L557.9,543.0 L559.8,543.4 L561.4,543.8 L562.9,544.2 L564.4,544.6 L565.8,545.0 L567.8,545.5 L569.2,545.9 L570.2,546.2" stroke="#000"/>
</g>
<path d="M132.3,542.6 L132.6,541.1 L132.9,539.5 L133.3,537.6 L133.7,536.1 M150.9,492.7 L151.7,491.4 L152.6,490.1 L153.5,488.8 L154.4,487.5 L155.3,486.2 L156.2,485.0 L156.9,484.1 M189.4,449.9 L190.7,448.9 L192.0,448.0 L193.3,447.2 L194.6,446.3 L196.0,445.5 L197.3,444.7 L198.6,443.9 M235.9,433.2 L237.4,432.9 L238.9,432.7 L240.5,432.4 L242.1,432.2 L243.6,432.0 L245.2,431.8 L246.7,431.6 M283.0,428.8 L284.5,428.6 L286.1,428.5 L287.6,428.4 L289.2,428.3 L290.8,428.2 L292.4,428.1 L293.9,428.0 M330.9,423.7 L332.4,423.5 L334.0,423.3 L335.5,423.1 L337.1,422.9 L338.7,422.7 L340.2,422.5 M378.2,414.2 L379.7,413.8 L381.2,413.4 L382.7,412.9 L384.2,412.5 L385.7,412.0 L387.2,411.5 L387.7,411.4 M425.3,391.5 L426.6,390.6 L427.9,389.8 L429.2,388.9 L430.6,388.0 L431.9,387.1 L433.1,386.2 L434.4,385.3 L435.5,384.3 M457.0,349.6 L457.7,348.0 L458.4,346.5 L458.8,345.6 M132.2,380.8 L132.2,382.4 L132.2,383.9 L132.2,385.4 L132.3,386.9 L132.3,388.5 L132.3,390.0 L132.3,391.5 L132.3,393.0 L132.3,394.6 L132.3,396.1 L132.3,397.7 L132.3,399.2 L132.3,400.8 L132.4,402.3 L132.4,402.8 M135.8,427.5 L136.4,428.9 L137.3,430.7 L138.0,432.0 L138.7,433.4 L139.5,434.7 L140.3,436.1 L140.6,436.5 M176.3,453.2 L177.8,453.5 L179.3,453.8 L180.8,454.0 L182.3,454.3 L183.8,454.5 L185.3,454.8 L185.8,454.8 M223.8,459.0 L225.3,459.3 L226.9,459.5 L228.4,459.7 L229.9,460.0 L231.5,460.2 L233.0,460.4 L233.5,460.5 M271.4,464.3 L273.0,464.4 L274.5,464.5 L276.1,464.6 L277.7,464.7 L279.3,464.8 L280.8,465.0 M318.9,469.5 L320.4,469.7 L321.9,469.9 L323.4,470.0 L325.0,470.2 L326.5,470.4 L328.0,470.6 L328.5,470.7 M365.5,478.9 L367.4,479.6 L368.8,480.1 L370.3,480.7 L371.7,481.2 L373.1,481.8 L374.5,482.5 M412.7,509.8 L414.0,510.7 L415.2,511.6 L416.5,512.5 L417.8,513.4 L419.1,514.2 L420.4,515.1 L421.7,516.0 L422.1,516.3 M460.1,543.2 L461.4,544.0 L463.1,545.0 L463.5,545.3" stroke="#1111ee" fill="none" stroke-linecap="round" stroke-linejoin="round" stroke-width="3.6"/>
<g fill="#1111ee"><circle cx="137.0" cy="526.0" r="2.05"/><circle cx="140.5" cy="517.0" r="2.05"/><circle cx="167.0" cy="471.9" r="2.05"/><circle cx="212.2" cy="438.5" r="2.05"/><circle cx="224.0" cy="436.0" r="2.05"/><circle cx="259.2" cy="430.6" r="2.05"/><circle cx="270.0" cy="429.8" r="2.05"/><circle cx="307.0" cy="426.7" r="2.05"/><circle cx="317.9" cy="425.2" r="2.05"/><circle cx="353.8" cy="420.7" r="2.05"/><circle cx="365.2" cy="418.1" r="2.05"/><circle cx="400.7" cy="405.9" r="2.05"/><circle cx="412.6" cy="400.2" r="2.05"/><circle cx="445.2" cy="371.9" r="2.05"/><circle cx="451.9" cy="360.7" r="2.05"/><circle cx="134.0" cy="414.6" r="2.05"/><circle cx="152.2" cy="447.4" r="2.05"/><circle cx="163.3" cy="450.7" r="2.05"/><circle cx="199.6" cy="456.3" r="2.05"/><circle cx="210.7" cy="457.8" r="2.05"/><circle cx="246.5" cy="461.6" r="2.05"/><circle cx="257.9" cy="462.6" r="2.05"/><circle cx="293.4" cy="466.0" r="2.05"/><circle cx="305.0" cy="467.2" r="2.05"/><circle cx="341.5" cy="473.2" r="2.05"/><circle cx="352.5" cy="475.5" r="2.05"/><circle cx="388.1" cy="489.9" r="2.05"/><circle cx="400.0" cy="498.8" r="2.05"/><circle cx="434.8" cy="527.0" r="2.05"/><circle cx="446.7" cy="535.9" r="2.05"/></g>
<path d="M132.7,540.0 L133.2,538.5 L133.7,537.0 L134.2,535.5 L134.7,534.0 L135.2,532.5 L135.7,531.1 L136.2,529.7 L136.8,527.8 L137.3,526.4 M145.3,505.2 L146.5,503.6 L147.7,502.0 L148.7,500.8 L149.6,499.6 L150.5,498.3 L151.5,497.1 L152.4,495.8 L153.4,494.6 L153.7,494.2 M170.6,471.9 L172.1,470.6 L173.5,469.3 L174.7,468.3 L175.9,467.3 L177.1,466.3 L178.3,465.3 L179.5,464.3 L180.7,463.3 L181.9,462.3 L183.2,461.3 M204.5,444.6 L205.9,443.9 L207.3,443.3 L208.7,442.8 L210.2,442.3 L211.6,441.8 L213.1,441.4 L214.5,440.9 L216.0,440.5 L216.9,440.2 M238.1,434.8 L239.7,434.6 L241.2,434.4 L242.7,434.2 L244.2,434.0 L245.7,433.8 L247.2,433.6 L248.8,433.4 L250.3,433.3 M273.0,430.5 L274.5,430.3 L276.0,430.2 L277.5,430.1 L279.0,430.0 L280.6,429.8 L282.1,429.7 L283.6,429.6 L285.1,429.5 M307.8,427.6 L309.3,427.5 L310.8,427.4 L312.3,427.2 L313.8,427.1 L315.4,427.0 L316.9,426.8 L318.4,426.7 L319.9,426.5 M342.8,423.9 L344.3,423.7 L345.8,423.6 L347.8,423.4 L349.7,423.2 L351.7,423.0 L353.2,422.9 L354.2,422.8 M377.7,418.9 L379.2,418.6 L380.7,418.2 L382.2,417.9 L383.6,417.6 L385.1,417.2 L386.5,416.8 L388.0,416.5 L389.0,416.2 M412.4,408.1 L413.9,407.5 L415.4,406.9 L416.8,406.3 L418.3,405.7 L419.7,405.1 L421.1,404.5 L422.9,403.6 L424.2,403.0 M446.0,388.2 L447.1,387.1 L448.2,386.0 L449.3,384.9 L450.3,383.8 L451.3,382.6 L452.3,381.5 L453.2,380.3 L454.2,379.0 L455.0,377.8 L455.9,376.5 M465.0,356.0 L465.6,354.6 L466.2,353.1 L466.7,351.6 L467.3,350.2 L468.0,348.4 L468.7,347.0 L469.4,345.5 M132.4,389.4 L132.4,390.9 L132.5,392.4 L132.5,394.0 L132.6,395.5 L132.6,397.0 L132.7,399.0 L132.8,400.9 M135.0,423.2 L135.7,424.6 L136.6,425.8 L137.6,427.0 L138.8,427.9 L140.1,428.8 L141.4,429.5 L142.8,430.2 L144.6,431.0 L146.0,431.6 M169.1,436.7 L170.6,437.0 L172.5,437.4 L174.4,437.8 L176.4,438.1 L178.3,438.5 L179.8,438.8 M204.0,444.9 L205.5,445.2 L207.0,445.6 L208.9,446.0 L210.8,446.4 L212.8,446.8 L213.8,447.0 M237.4,450.6 L238.9,450.9 L240.4,451.2 L242.4,451.5 L244.3,451.9 L246.2,452.2 L248.2,452.6 L249.7,452.9 M272.3,457.5 L273.8,457.8 L275.2,458.1 L277.2,458.5 L279.1,458.9 L281.1,459.3 L282.6,459.5 L283.6,459.7 M307.1,463.7 L308.6,463.9 L310.1,464.2 L311.6,464.5 L313.1,464.8 L314.5,465.0 L316.0,465.3 L317.5,465.6 L318.5,465.9 M341.3,471.6 L342.9,472.0 L344.4,472.4 L345.9,472.8 L347.4,473.2 L348.9,473.7 L350.3,474.1 L352.2,474.7 L353.1,475.0 M375.7,486.1 L377.4,487.1 L379.1,488.1 L380.4,488.8 L381.8,489.6 L383.1,490.4 L384.5,491.2 L385.9,492.0 L387.3,492.8 L387.7,493.1 M410.7,505.4 L412.1,506.1 L413.4,506.9 L415.1,507.8 L416.9,508.8 L418.6,509.7 L420.3,510.7 L421.7,511.4 L422.6,511.8 M444.9,522.8 L446.2,523.5 L447.6,524.3 L448.9,525.0 L450.3,525.7 L451.6,526.4 L452.9,527.1 L454.3,527.8 L455.6,528.5 L457.0,529.1 L457.4,529.4 M479.7,539.8 L481.2,540.4 L482.6,541.0 L484.0,541.6 L485.4,542.2 L486.8,542.8 L488.2,543.4 L489.6,544.0 L491.0,544.6 L491.4,544.8" stroke="#ee1111" fill="none" stroke-linecap="round" stroke-linejoin="round" stroke-width="3.6"/>
</g>
<g fill="none" stroke-linecap="round">
<path d="M442.5,417.1 H498.2" stroke="#000" stroke-width="3.6"/>
<path d="M442.5,447.8 H456.3 M477,447.8 H490.2" stroke="#ee1111" stroke-width="3.6"/>
<path d="M442.5,478.2 H453.6 M466,478.2 h0.1 M477.5,478.2 h0.1 M489,478.2 H498.2" stroke="#1111ee" stroke-width="3.6"/>
</g>
</svg>
</body></html>
